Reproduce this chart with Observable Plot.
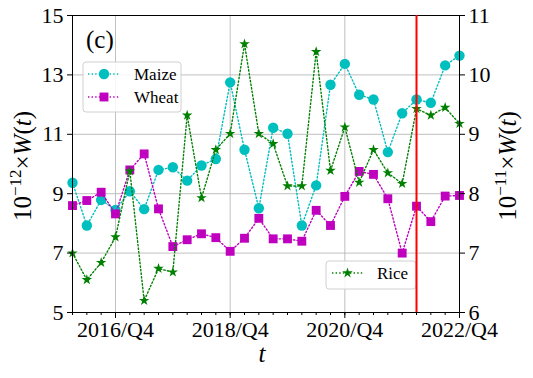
<!DOCTYPE html>
<html><head><meta charset="utf-8">
<script src="https://cdn.jsdelivr.net/npm/d3@7"></script>
<script src="https://cdn.jsdelivr.net/npm/@observablehq/plot@0.6"></script>
<style>body{margin:0;background:#fff} svg, svg text{font-family:"Liberation Serif","Times New Roman",serif !important}</style>
</head><body><div id="chart"></div>
<script>
const quarters = ["2016/Q1","2016/Q2","2016/Q3","2016/Q4","2017/Q1","2017/Q2","2017/Q3","2017/Q4",
  "2018/Q1","2018/Q2","2018/Q3","2018/Q4","2019/Q1","2019/Q2","2019/Q3","2019/Q4",
  "2020/Q1","2020/Q2","2020/Q3","2020/Q4","2021/Q1","2021/Q2","2021/Q3","2021/Q4",
  "2022/Q1","2022/Q2","2022/Q3","2022/Q4"];
const maize = [9.37,7.93,8.79,8.45,9.08,8.48,9.80,9.89,9.44,9.95,10.17,12.75,10.48,8.51,11.22,11.02,
  7.93,9.28,12.67,13.37,12.33,12.17,10.40,11.71,12.17,12.06,13.32,13.65];
const wheat = [8.60,8.77,9.05,8.32,9.80,10.34,8.49,7.22,7.45,7.65,7.52,7.06,7.50,8.17,7.48,7.48,
  7.40,8.44,7.93,8.91,9.75,9.65,8.83,7.00,8.58,8.06,8.92,8.94];
const rice = [7.00,6.55,6.84,7.27,8.38,6.20,6.74,6.68,9.32,7.93,8.74,9.01,10.52,9.01,8.84,8.13,
  8.13,10.39,8.39,9.12,8.19,8.74,8.35,8.17,9.43,9.32,9.45,9.18];
const xTickLabels = ["2016/Q4","2018/Q4","2020/Q4","2022/Q4"];
const leftTicks = [5,7,9,11,13,15];
const rightTicks = [6,7,8,9,10,11];
const marker = ["2022/Q1"];

// right axis (rice) mapped onto left scale: 6..11 -> 5..15
const toLeft = v => 5 + (v - 6) * 2;
const table = quarters.map((q, i) => ({i, q, maize: maize[i], wheat: wheat[i], rice: toLeft(rice[i])}));
const majorIdx = xTickLabels.map(l => quarters.indexOf(l));
const cM = "#00bfbf", cW = "#bf00bf", cR = "#008000";
const dash = "1.4,2.2";
const font = "Liberation Serif, Times New Roman, serif";

const plot = Plot.plot({
  width: 533, height: 378,
  marginLeft: 72, marginRight: 74, marginTop: 15, marginBottom: 66,
  style: {fontFamily: font, fontSize: "22px", background: "white", color: "black"},
  x: {domain: [0, quarters.length - 1]},
  y: {domain: [5, 15]},
  marks: [
    Plot.gridX(majorIdx, {stroke: "#b0b0b0", strokeOpacity: 0.8, strokeWidth: 1}),
    Plot.gridY(leftTicks, {stroke: "#b0b0b0", strokeOpacity: 0.8, strokeWidth: 1}),
    Plot.line(table, {x: "i", y: "maize", stroke: cM, strokeWidth: 1.4, strokeDasharray: dash}),
    Plot.dot(table, {x: "i", y: "maize", r: 5.2, fill: cM, symbol: "circle"}),
    Plot.line(table, {x: "i", y: "wheat", stroke: cW, strokeWidth: 1.4, strokeDasharray: dash}),
    Plot.dot(table, {x: "i", y: "wheat", r: 5, fill: cW, symbol: "square"}),
    Plot.line(table, {x: "i", y: "rice", stroke: cR, strokeWidth: 1.4, strokeDasharray: dash}),
    Plot.dot(table, {x: "i", y: "rice", r: 3.3, fill: cR, symbol: "star"}),
    Plot.frame({stroke: "black", strokeWidth: 1}),
    Plot.axisY(leftTicks, {anchor: "left", tickSize: 5, tickPadding: 4, label: null, fontSize: 22}),
    Plot.axisY(rightTicks.map(toLeft), {anchor: "right", tickSize: 5, tickPadding: 4, label: null, fontSize: 22,
      tickFormat: d => String((d - 5) / 2 + 6)}),
    Plot.axisX(majorIdx, {anchor: "bottom", tickSize: 6, tickPadding: 3, label: null, fontSize: 22,
      tickFormat: i => quarters[i]}),
    Plot.axisX(d3.range(quarters.length), {anchor: "bottom", tickSize: 3, fill: "none", label: null})
  ]
});
document.getElementById("chart").appendChild(plot);

const svg = d3.select(plot);

// y-axis labels
function yLabel(x, exp) {
  const t = svg.append("text")
    .attr("transform", `translate(${x},166) rotate(-90)`)
    .attr("text-anchor", "middle").attr("font-family", font).attr("font-size", 25).attr("fill", "black");
  t.append("tspan").text("10");
  t.append("tspan").attr("dy", -10).attr("font-size", 17).text("\u2212" + exp);
  t.append("tspan").attr("dy", 10).text("\u00d7");
  t.append("tspan").attr("font-style", "italic").text("W");
  t.append("tspan").text("(");
  t.append("tspan").attr("font-style", "italic").text("t");
  t.append("tspan").text(")");
}
yLabel(31, "12");
yLabel(516, "11");

svg.append("text").attr("x", 262).attr("y", 362).attr("text-anchor", "middle")
  .attr("font-family", font).attr("font-style", "italic").attr("font-size", 25).attr("fill", "black").text("t");

svg.append("text").attr("x", 86).attr("y", 48).attr("text-anchor", "start")
  .attr("font-family", font).attr("font-size", 25).attr("fill", "black").text("(c)");

// legends
function legendBox(x, y, w, h) {
  svg.append("rect").attr("x", x).attr("y", y).attr("width", w).attr("height", h)
    .attr("rx", 3).attr("fill", "white").attr("fill-opacity", 0.85).attr("stroke", "#d0d0d0");
}
function legendEntry(x1, x2, y, color, sym, size, label, tx) {
  svg.append("line").attr("x1", x1).attr("x2", x2).attr("y1", y).attr("y2", y)
    .attr("stroke", color).attr("stroke-width", 1.4).attr("stroke-dasharray", dash);
  svg.append("path").attr("d", d3.symbol(sym, size)()).attr("transform", `translate(${(x1 + x2) / 2},${y})`).attr("fill", color);
  svg.append("text").attr("x", tx).attr("y", y + 6).attr("text-anchor", "start")
    .attr("font-family", font).attr("font-size", 17).attr("fill", "black").text(label);
}
legendBox(83, 62, 98, 50);
legendEntry(88, 120, 74, cM, d3.symbolCircle, Math.PI * 27, "Maize", 134);
legendEntry(88, 120, 97, cW, d3.symbolSquare, Math.PI * 25, "Wheat", 134);
legendBox(326, 261, 90, 28);
legendEntry(332, 363, 273, cR, d3.symbolStar, Math.PI * 3.3 * 3.3, "Rice", 377);

// red marker line drawn last so it sits on top of the legend box
const redPlot = Plot.plot({
  width: 533, height: 378,
  marginLeft: 72, marginRight: 74, marginTop: 15, marginBottom: 66,
  x: {domain: [0, quarters.length - 1]}, y: {domain: [5, 15]}, axis: null,
  marks: [Plot.ruleX(marker, {x: d => quarters.indexOf(d), stroke: "red", strokeWidth: 2})]
});
const ruleG = d3.select(redPlot).select("g[aria-label='rule']").node();
plot.appendChild(ruleG);
</script>
</body></html>
